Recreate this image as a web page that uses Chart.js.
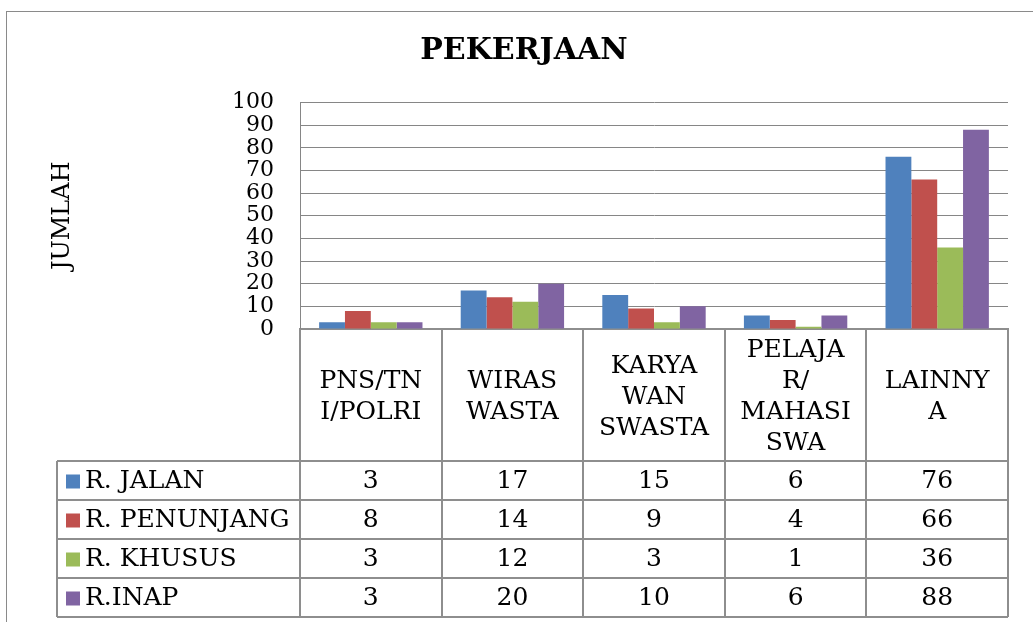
<!DOCTYPE html>
<html>
<head>
<meta charset="utf-8">
<script src="https://cdn.jsdelivr.net/npm/chart.js@4.4.1/dist/chart.umd.min.js"></script>
<style>
  body { margin: 0; background: #fff; }
  #wrap { width: 1033px; height: 622px; }
</style>
</head>
<body>
<div id="wrap"><canvas id="chart" width="1033" height="622"></canvas></div>
<script>
// categories (wrapped the way the table header shows them)
const categories = [
    ['PNS/TN', 'I/POLRI'],
    ['WIRAS', 'WASTA'],
    ['KARYA', 'WAN', 'SWASTA'],
    ['PELAJA', 'R/', 'MAHASI', 'SWA'],
    ['LAINNY', 'A']
];
const seriesNames = ['R. JALAN', 'R. PENUNJANG', 'R. KHUSUS', 'R.INAP'];
const rJalan = [3, 17, 15, 6, 76];
const rPenunjang = [8, 14, 9, 4, 66];
const rKhusus = [3, 12, 3, 1, 36];
const rInap = [3, 20, 10, 6, 88];
const colors = ['#4F81BD', '#C0504D', '#9BBB59', '#8064A2'];

const FONT = '"DejaVu Serif", serif';

// outer frame of the chart object
const framePlugin = {
    id: 'frame',
    beforeDraw(chart) {
        const ctx = chart.ctx;
        ctx.save();
        ctx.fillStyle = '#fff';
        ctx.fillRect(0, 0, chart.width, chart.height);
        ctx.strokeStyle = '#8a8a8a';
        ctx.lineWidth = 1;
        ctx.strokeRect(6.5, 11.5, chart.width + 20, chart.height + 20);
        ctx.restore();
    }
};

// data table under the plot, columns follow the category scale
const tablePlugin = {
    id: 'dataTable',
    afterDraw(chart) {
        const ctx = chart.ctx;
        const xs = chart.scales.x;
        const area = chart.chartArea;
        const n = categories.length;
        const colW = (area.right - area.left) / n;
        const top = area.bottom;
        const headBottom = top + 132;
        const rowH = 39;
        const tableLeft = 57;
        const bottom = headBottom + rowH * chart.data.datasets.length;

        ctx.save();
        ctx.strokeStyle = '#8e8e8e';
        ctx.lineWidth = 2;
        ctx.beginPath();
        // column lines
        for (let i = 0; i <= n; i++) {
            const x = Math.round(area.left + i * colW);
            ctx.moveTo(x, top);
            ctx.lineTo(x, bottom);
        }
        ctx.moveTo(tableLeft, headBottom);
        ctx.lineTo(tableLeft, bottom);
        // row lines
        for (let r = 0; r <= chart.data.datasets.length; r++) {
            const y = headBottom + r * rowH;
            ctx.moveTo(tableLeft, y);
            ctx.lineTo(area.right, y);
        }
        ctx.stroke();

        ctx.fillStyle = '#000';
        ctx.font = '25px ' + FONT;
        ctx.textAlign = 'center';
        ctx.textBaseline = 'middle';
        // header
        categories.forEach((lines, i) => {
            const cx = xs.getPixelForTick(i);
            const lh = 31;
            const cy = (top + headBottom) / 2 + 2;
            lines.forEach((t, k) => {
                ctx.fillText(t, cx, cy + (k - (lines.length - 1) / 2) * lh);
            });
        });
        // rows
        chart.data.datasets.forEach((ds, r) => {
            const cy = headBottom + r * rowH + rowH / 2 + 1;
            ctx.fillStyle = ds.backgroundColor;
            ctx.fillRect(tableLeft + 9, cy - 7, 14, 14);
            ctx.fillStyle = '#000';
            ctx.textAlign = 'left';
            ctx.fillText(ds.label, tableLeft + 28, cy);
            ctx.textAlign = 'center';
            ds.data.forEach((v, i) => {
                ctx.fillText(String(v), xs.getPixelForTick(i), cy);
            });
        });
        ctx.restore();
    }
};

const seriesData = [rJalan, rPenunjang, rKhusus, rInap];

new Chart(document.getElementById('chart'), {
    type: 'bar',
    data: {
        labels: categories,
        datasets: seriesNames.map((name, i) => ({
            label: name,
            data: seriesData[i],
            backgroundColor: colors[i],
            borderWidth: 0,
            categoryPercentage: 0.73,
            barPercentage: 1
        }))
    },
    options: {
        responsive: false,
        devicePixelRatio: 1,
        animation: false,
        layout: { padding: { top: 0, right: 25, bottom: 281, left: 40 } },
        plugins: {
            legend: { display: false },
            tooltip: { enabled: false },
            title: {
                display: true,
                text: 'PEKERJAAN',
                color: '#000',
                font: { family: FONT, size: 30, weight: 'bold', lineHeight: 1.2 },
                padding: { top: 33, bottom: 33.5 }
            }
        },
        scales: {
            x: {
                grid: { display: false },
                border: { display: true, color: '#8e8e8e', width: 2 },
                ticks: { display: false },
                afterFit(scale) { scale.height = 12; }
            },
            y: {
                min: 0,
                max: 100,
                ticks: {
                    stepSize: 10,
                    autoSkip: false,
                    color: '#000',
                    padding: 26,
                    font: { family: FONT, size: 22, lineHeight: 1 }
                },
                grid: { color: '#868686', lineWidth: 1, drawTicks: false },
                border: { color: '#868686', width: 1 },
                title: {
                    display: true,
                    text: 'JUMLAH',
                    color: '#000',
                    font: { family: FONT, size: 24, lineHeight: 1.2 },
                    padding: { top: 8 }
                },
                afterFit(scale) { scale.width = 260; }
            }
        }
    },
    plugins: [framePlugin, tablePlugin]
});
</script>
</body>
</html>
